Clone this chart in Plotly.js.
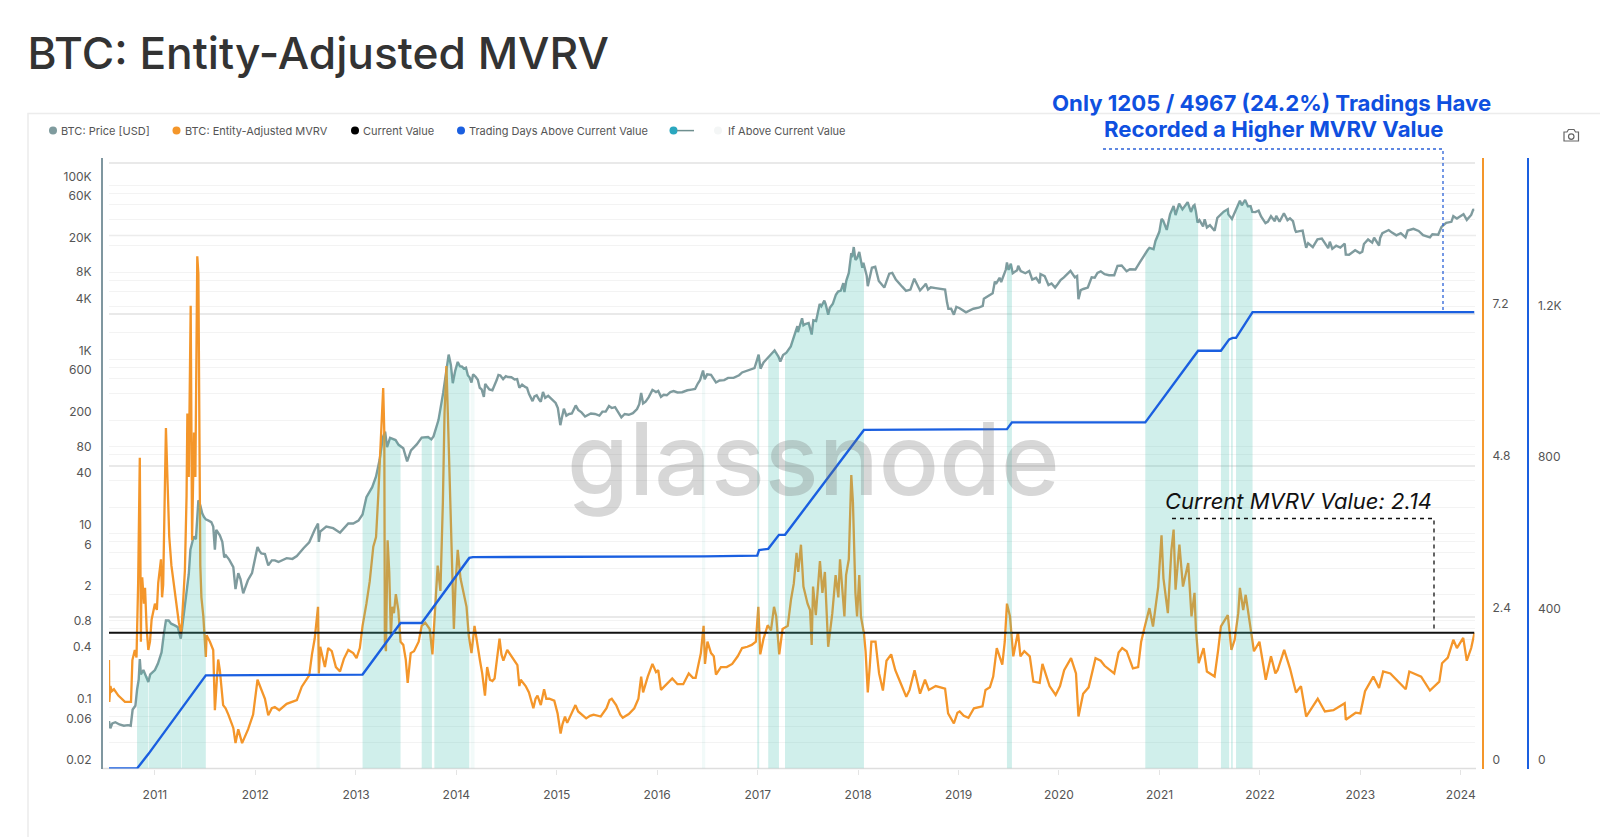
<!DOCTYPE html>
<html>
<head>
<meta charset="utf-8">
<script src="https://cdn.plot.ly/plotly-3.0.1.min.js"></script>
<style>html,body{margin:0;padding:0;background:#fff}#chart{width:1600px;height:837px}</style>
</head>
<body>
<div id="chart"></div>
<script>
const pricePoints = [
['10-07-18',.07],['10-07-23',.058],['10-07-30',.066],['10-08-10',.068],['10-08-25',.064],['10-09-10',.062],['10-09-25',.063],['10-10-05',.062],['10-10-12',.095],['10-10-22',.105],['10-10-28',.16],['10-11-03',.21],['10-11-07',.36],['10-11-11',.24],['10-11-20',.27],['10-11-30',.23],['10-12-08',.197],['10-12-15',.24],['10-12-25',.26],
['11-01-01',.27],['11-01-12',.32],['11-01-25',.43],['11-02-03',.72],['11-02-10',1.0],['11-02-20',1.0],['11-03-01',.92],['11-03-14',.88],['11-03-25',.84],['11-04-05',.62],['11-04-15',1.1],['11-04-28',2.7],['11-05-04',3.4],['11-05-10',6.5],['11-05-16',7.5],['11-05-22',9.2],['11-05-30',8.6],['11-06-08',24],['11-06-15',21],['11-06-22',17],['11-06-28',15.5],['11-07-05',14.5],['11-07-15',14],['11-07-25',13.5],['11-08-01',12],['11-08-07',6.5],['11-08-12',11],['11-08-25',9.5],['11-09-03',8],['11-09-10',5.3],['11-09-16',5.6],['11-09-28',5],['11-10-13',4.1],['11-10-21',2.3],['11-10-31',3.5],['11-11-08',3.0],['11-11-18',2.05],['11-12-05',2.9],['11-12-20',3.5],
['12-01-09',7],['12-01-16',6.3],['12-01-23',5.9],['12-02-05',5.8],['12-02-17',4.3],['12-03-01',4.9],['12-03-12',4.9],['12-03-25',4.7],['12-04-10',5],['12-04-24',5.2],['12-05-15',5.1],['12-05-31',5.5],['12-06-25',6.8],['12-07-15',7.9],['12-08-04',11],['12-08-16',13],['12-08-19',8],['12-08-24',10.5],['12-09-15',12],['12-10-10',11.5],['12-11-04',10.2],['12-12-04',13],['12-12-22',13],
['13-01-10',14],['13-01-25',16.5],['13-02-08',26],['13-03-01',34],['13-03-15',45],['13-03-28',70],['13-04-09',128],['13-04-17',147],['13-04-24',98],['13-05-05',125],['13-05-25',118],['13-06-05',104],['13-06-22',95],['13-07-06',67],['13-07-20',90],['13-08-10',105],['13-08-28',126],['13-09-20',128],['13-10-02',120],['13-10-10',130],['13-10-28',200],['13-11-14',410],['13-11-25',780],['13-12-04',1130],['13-12-12',860],['13-12-19',530],['13-12-28',740],
['14-01-06',930],['14-01-14',830],['14-01-22',820],['14-01-28',780],['14-02-05',800],['14-02-12',650],['14-02-18',620],['14-02-25',540],['14-03-03',670],['14-03-12',630],['14-03-20',580],['14-03-27',470],['14-04-03',450],['14-04-11',370],['14-04-16',520],['14-04-22',490],['14-05-01',450],['14-05-12',440],['14-05-22',510],['14-05-28',580],['14-06-03',660],['14-06-10',650],['14-06-20',590],['14-06-30',640],['14-07-08',625],['14-07-20',620],['14-08-01',585],['14-08-10',590],['14-08-18',470],['14-08-28',510],['14-09-08',480],['14-09-15',470],['14-09-22',400],['14-10-05',330],['14-10-12',375],['14-10-20',385],['14-10-30',340],['14-11-04',325],['14-11-12',420],['14-11-20',360],['14-12-01',380],['14-12-15',345],['14-12-28',315],
['15-01-05',275],['15-01-14',175],['15-01-20',215],['15-01-27',270],['15-02-05',225],['15-02-15',235],['15-02-25',238],['15-03-11',295],['15-03-20',262],['15-04-01',245],['15-04-14',220],['15-04-25',228],['15-05-05',238],['15-05-20',235],['15-06-05',225],['15-06-16',250],['15-06-28',250],['15-07-10',290],['15-07-20',275],['15-08-01',282],['15-08-18',235],['15-08-24',215],['15-09-05',235],['15-09-20',230],['15-10-05',240],['15-10-20',268],['15-10-28',305],['15-11-04',410],['15-11-11',310],['15-11-20',325],['15-12-01',365],['15-12-15',445],['15-12-28',420],
['16-01-05',432],['16-01-15',370],['16-01-25',390],['16-02-05',385],['16-02-18',420],['16-03-01',430],['16-03-15',415],['16-04-01',418],['16-04-20',440],['16-05-05',448],['16-05-18',455],['16-05-28',525],['16-06-05',575],['16-06-16',740],['16-06-22',590],['16-07-01',670],['16-07-15',660],['16-08-02',540],['16-08-15',570],['16-09-01',575],['16-09-15',610],['16-10-05',610],['16-10-25',655],['16-11-05',705],['16-11-20',735],['16-12-05',765],['16-12-20',790],['16-12-28',950],
['17-01-04',1130],['17-01-11',780],['17-01-22',920],['17-02-05',1025],['17-02-24',1180],['17-03-03',1260],['17-03-17',1070],['17-03-24',940],['17-04-03',1120],['17-04-15',1190],['17-05-01',1400],['17-05-10',1750],['17-05-25',2400],['17-05-27',2050],['17-06-11',2950],['17-06-16',2450],['17-06-25',2550],['17-07-05',2600],['17-07-16',1920],['17-07-22',2800],['17-08-01',2750],['17-08-14',4300],['17-08-20',4050],['17-08-31',4700],['17-09-05',4250],['17-09-14',3250],['17-09-20',3900],['17-10-01',4350],['17-10-12',5500],['17-10-20',5980],['17-10-30',6130],['17-11-08',7450],['17-11-12',5900],['17-11-19',8000],['17-11-28',9800],['17-12-07',16500],['17-12-10',14800],['17-12-16',19400],['17-12-22',13800],['17-12-28',14500],
['18-01-05',17000],['18-01-16',11200],['18-01-20',12800],['18-02-01',9100],['18-02-05',6900],['18-02-20',11200],['18-03-04',11500],['18-03-17',7900],['18-03-29',7100],['18-04-06',6650],['18-04-24',9600],['18-05-05',9800],['18-05-18',8200],['18-05-29',7400],['18-06-10',6800],['18-06-24',6100],['18-07-10',6300],['18-07-24',8400],['18-08-05',7000],['18-08-14',6150],['18-08-30',7000],['18-09-04',7350],['18-09-12',6300],['18-09-22',6700],['18-10-10',6550],['18-10-25',6400],['18-11-13',6300],['18-11-20',4500],['18-11-25',3800],['18-12-05',3800],['18-12-15',3250],['18-12-24',4000],
['19-01-05',3850],['19-01-28',3450],['19-02-10',3650],['19-02-24',3800],['19-03-15',3900],['19-03-30',4100],['19-04-03',4950],['19-04-20',5300],['19-05-05',5700],['19-05-13',7800],['19-05-17',7300],['19-05-30',8600],['19-06-05',7700],['19-06-22',10700],['19-06-26',12900],['19-07-02',10600],['19-07-10',12500],['19-07-17',9700],['19-08-02',10500],['19-08-06',11800],['19-08-15',10300],['19-09-01',9700],['19-09-15',10300],['19-09-26',8200],['19-10-10',8600],['19-10-23',7450],['19-10-26',9500],['19-11-10',9000],['19-11-24',7100],['19-12-05',7400],['19-12-18',6650],['19-12-28',7300],
['20-01-07',8100],['20-01-19',8700],['20-01-29',9400],['20-02-12',10350],['20-02-28',8700],['20-03-07',9000],['20-03-12',4900],['20-03-20',6200],['20-03-30',6400],['20-04-15',6650],['20-04-29',8700],['20-05-10',8600],['20-05-20',9800],['20-06-01',10200],['20-06-15',9450],['20-07-01',9200],['20-07-20',9200],['20-08-01',11800],['20-08-16',11900],['20-09-03',10250],['20-09-15',10800],['20-10-05',10700],['20-10-21',12900],['20-11-05',15600],['20-11-18',17800],['20-11-25',19000],['20-12-10',18300],['20-12-17',22800],['20-12-31',29000],
['21-01-08',40800],['21-01-14',39000],['21-01-27',30500],['21-02-08',46000],['21-02-21',57500],['21-02-28',45200],['21-03-13',61000],['21-03-25',52500],['21-04-13',63500],['21-04-25',49000],['21-05-03',57000],['21-05-08',58800],['21-05-13',49700],['21-05-19',37000],['21-05-26',39500],['21-06-08',33500],['21-06-14',40500],['21-06-22',32500],['21-07-03',34500],['21-07-20',29800],['21-07-30',42000],['21-08-14',47000],['21-08-22',49500],['21-09-06',52700],['21-09-08',46000],['21-09-21',40700],['21-10-05',51500],['21-10-15',61500],['21-10-20',65900],['21-10-27',58500],['21-11-08',67500],['21-11-18',57000],['21-11-28',57200],['21-12-04',49200],['21-12-15',48800],['21-12-27',50700],
['22-01-05',43500],['22-01-21',36500],['22-01-30',38000],['22-02-10',43800],['22-02-24',38300],['22-03-01',44400],['22-03-13',37800],['22-03-29',47400],['22-04-11',39500],['22-04-20',41500],['22-05-01',38500],['22-05-09',30300],['22-05-12',29000],['22-05-25',29500],['22-06-05',29900],['22-06-13',22500],['22-06-18',19000],['22-06-25',21500],['22-07-12',19300],['22-07-29',23800],['22-08-14',24300],['22-08-25',21500],['22-09-06',18800],['22-09-12',22300],['22-09-21',18500],['22-10-05',20100],['22-10-20',19100],['22-11-05',21200],['22-11-09',15900],['22-11-21',15800],['22-12-13',17800],['22-12-30',16550],
['23-01-08',17100],['23-01-14',21000],['23-01-29',23700],['23-02-13',21800],['23-02-20',24800],['23-03-10',20200],['23-03-14',24700],['23-03-22',28000],['23-04-10',29700],['23-04-14',30400],['23-04-26',28400],['23-05-12',26400],['23-05-28',28000],['23-06-14',25100],['23-06-22',30000],['23-07-13',31400],['23-08-01',29700],['23-08-17',26600],['23-09-11',25100],['23-09-20',27200],['23-10-11',26800],['23-10-23',33000],['23-11-09',36700],['23-11-28',37800],['23-12-05',43900],['23-12-18',41300],
['24-01-01',44200],['24-01-11',46300],['24-01-23',39800],['24-02-01',43000],['24-02-08',45300],['24-02-15',51800],['24-02-20',52000]];

const mvrvPoints = [
['10-07-18',1.71],['10-07-19',1.05],['10-07-23',1.3],['10-07-28',1.22],['10-08-05',1.25],['10-08-21',1.15],['10-09-14',1.05],['10-10-06',1.05],['10-10-11',1.71],['10-10-20',1.87],['10-10-26',1.75],['10-11-01',2.93],['10-11-07',4.9],['10-11-11',2.0],['10-11-13',3.0],['10-11-16',3.0],['10-11-22',2.6],['10-11-26',2.85],['10-12-02',2.2],['10-12-08',1.87],['10-12-14',2.0],['10-12-20',2.35],
['11-01-01',2.6],['11-01-08',2.5],['11-01-13',2.93],['11-01-23',3.3],['11-01-27',2.7],['11-01-31',2.9],['11-02-04',3.9],['11-02-10',5.37],['11-02-16',4.5],['11-02-22',3.66],['11-03-02',3.2],['11-03-08',3.0],['11-03-14',2.83],['11-03-24',2.5],['11-03-29',2.3],['11-04-07',2.13],['11-04-20',3.13],['11-04-26',4.3],['11-04-29',5.6],['11-05-04',4.6],['11-05-08',6.1],['11-05-11',7.3],['11-05-16',3.6],['11-05-23',5.3],['11-05-28',4.6],['11-06-04',8.08],['11-06-08',7.8],['11-06-10',6.6],['11-06-15',3.2],['11-06-19',2.7],['11-06-26',2.4],['11-07-05',1.76],['11-07-08',2.1],['11-07-20',2.0],['11-08-01',1.87],['11-08-07',.92],['11-08-19',1.72],['11-08-25',1.55],['11-09-06',1.0],['11-09-15',.95],['11-09-25',.85],['11-10-13',.64],['11-10-21',.4],['11-10-31',.62],['11-11-14',.4],['11-12-06',.62],['11-12-24',.85],
['12-01-09',1.4],['12-01-23',1.25],['12-02-05',1.1],['12-02-17',.84],['12-03-01',.95],['12-03-12',.97],['12-03-28',.92],['12-04-24',1.02],['12-05-31',1.08],['12-06-18',1.29],['12-07-15',1.47],['12-07-25',1.8],['12-08-04',2.05],['12-08-16',2.55],['12-08-19',1.5],['12-08-24',1.92],['12-09-10',1.6],['12-09-22',1.9],['12-10-05',1.85],['12-10-20',1.6],['12-11-04',1.53],['12-11-18',1.73],['12-12-04',1.87],['12-12-22',1.82],
['13-01-03',1.74],['13-01-15',1.9],['13-01-25',2.25],['13-02-08',2.6],['13-02-20',2.95],['13-03-05',3.5],['13-03-15',3.65],['13-03-23',4.3],['13-03-29',4.8],['13-04-04',5.3],['13-04-10',6.0],['13-04-14',5.3],['13-04-16',2.0],['13-04-20',1.85],['13-04-26',3.6],['13-05-02',3.1],['13-05-08',2.1],['13-05-13',2.55],['13-05-19',2.45],['13-05-26',2.75],['13-06-04',2.5],['13-06-12',2.0],['13-06-22',1.95],['13-07-01',1.72],['13-07-08',1.35],['13-07-19',1.82],['13-07-31',1.85],['13-08-17',2.0],['13-08-28',2.25],['13-09-10',2.3],['13-09-26',2.2],['13-10-06',1.8],['13-10-14',2.4],['13-10-25',3.2],['13-11-04',2.8],['13-11-13',4.2],['13-11-19',5.6],['13-11-26',6.35],['13-12-01',5.6],['13-12-06',4.8],['13-12-11',3.8],['13-12-17',3.2],['13-12-23',2.2],['13-12-29',2.9],
['14-01-06',3.45],['14-01-16',3.0],['14-01-28',2.75],['14-02-07',2.55],['14-02-15',2.1],['14-02-25',1.82],['14-03-08',2.25],['14-03-16',2.0],['14-03-28',1.7],['14-04-05',1.5],['14-04-15',1.15],['14-04-23',1.6],['14-05-03',1.4],['14-05-12',1.38],['14-05-20',1.42],['14-05-28',1.7],['14-06-07',2.05],['14-06-14',1.8],['14-06-21',1.7],['14-07-05',1.87],['14-07-23',1.75],['14-08-11',1.63],['14-08-18',1.3],['14-08-23',1.4],['14-09-10',1.3],['14-09-22',1.2],['14-10-08',.95],['14-10-16',1.1],['14-10-23',1.15],['14-11-04',1.0],['14-11-16',1.25],['14-11-24',1.1],['14-12-05',1.1],['14-12-23',1.07],
['15-01-04',.87],['15-01-15',.55],['15-01-22',.7],['15-01-31',.82],['15-02-08',.72],['15-02-22',.85],['15-03-10',1.0],['15-03-20',.9],['15-04-01',.85],['15-04-18',.79],['15-05-02',.83],['15-05-15',.85],['15-06-10',.82],['15-07-01',.95],['15-07-12',1.08],['15-07-20',1.1],['15-08-05',1.0],['15-08-20',.85],['15-08-29',.8],['15-09-20',.86],['15-10-10',.95],['15-10-25',1.1],['15-11-04',1.45],['15-11-11',1.2],['15-11-28',1.45],['15-12-15',1.65],['15-12-28',1.52],
['16-01-05',1.55],['16-01-15',1.24],['16-02-05',1.33],['16-02-25',1.42],['16-03-15',1.33],['16-04-05',1.33],['16-04-25',1.5],['16-05-10',1.43],['16-05-20',1.43],['16-05-30',1.65],['16-06-08',1.82],['16-06-18',2.25],['16-06-23',1.65],['16-07-02',2.0],['16-07-15',1.82],['16-07-25',1.77],['16-08-02',1.48],['16-08-20',1.6],['16-09-10',1.6],['16-09-30',1.65],['16-10-20',1.77],['16-11-05',1.9],['16-11-24',1.92],['16-12-10',1.95],['16-12-25',2.0],
['17-01-03',2.55],['17-01-10',1.8],['17-01-22',2.05],['17-02-06',2.26],['17-02-18',2.18],['17-03-01',2.55],['17-03-09',2.4],['17-03-20',1.8],['17-04-01',2.2],['17-04-20',2.25],['17-05-02',2.67],['17-05-12',2.92],['17-05-22',3.4],['17-05-28',3.1],['17-06-07',3.53],['17-06-16',2.87],['17-07-01',2.6],['17-07-10',2.5],['17-07-16',1.95],['17-07-21',2.87],['17-07-31',2.42],['17-08-15',3.27],['17-08-24',2.77],['17-09-02',3.1],['17-09-07',2.6],['17-09-14',1.92],['17-09-29',2.45],['17-10-11',3.05],['17-10-21',2.7],['17-10-27',3.3],['17-11-12',2.4],['17-11-18',3.05],['17-11-28',3.3],['17-12-07',4.63],['17-12-13',4.2],['17-12-17',3.55],['17-12-22',2.77],['17-12-28',2.4],
['18-01-05',3.05],['18-01-11',2.4],['18-01-22',2.13],['18-01-28',1.85],['18-02-05',1.2],['18-02-12',1.6],['18-02-18',2.0],['18-03-05',2.0],['18-03-18',1.5],['18-04-01',1.23],['18-04-14',1.7],['18-05-01',1.8],['18-05-16',1.55],['18-06-05',1.34],['18-06-25',1.13],['18-07-07',1.24],['18-07-25',1.55],['18-08-14',1.18],['18-09-01',1.4],['18-09-15',1.24],['18-10-10',1.3],['18-11-13',1.26],['18-11-24',.87],['18-12-15',.71],['18-12-28',.88],
['19-01-05',.9],['19-01-20',.83],['19-02-06',.8],['19-02-26',.95],['19-03-29',.98],['19-04-09',1.24],['19-04-25',1.28],['19-05-07',1.45],['19-05-20',1.9],['19-06-09',1.64],['19-06-18',2.0],['19-06-26',2.6],['19-07-07',2.4],['19-07-19',1.77],['19-08-05',2.15],['19-08-14',1.77],['19-08-28',1.85],['19-09-17',1.77],['19-09-30',1.37],['19-10-23',1.35],['19-11-02',1.65],['19-11-28',1.3],['19-12-20',1.16],
['20-01-05',1.3],['20-01-20',1.55],['20-02-14',1.74],['20-03-03',1.5],['20-03-12',.82],['20-03-29',1.18],['20-04-18',1.28],['20-05-13',1.74],['20-06-01',1.7],['20-06-15',1.62],['20-07-01',1.57],['20-07-20',1.5],['20-08-05',1.83],['20-08-18',1.9],['20-09-03',1.85],['20-09-26',1.58],['20-10-15',1.6],['20-10-26',2.0],['20-11-06',2.2],['20-11-25',2.53],['20-12-08',2.24],['20-12-27',2.87],
['21-01-08',3.68],['21-01-15',3.0],['21-01-31',2.45],['21-02-13',3.45],['21-02-21',3.77],['21-02-28',2.82],['21-03-14',3.53],['21-03-27',2.87],['21-04-15',3.24],['21-04-27',2.4],['21-05-08',2.77],['21-05-13',2.2],['21-05-23',1.66],['21-06-10',1.9],['21-06-22',1.53],['21-07-20',1.45],['21-08-02',1.87],['21-08-12',2.24],['21-09-06',2.42],['21-09-19',1.87],['21-10-01',2.03],['21-10-14',2.45],['21-10-20',2.85],['21-11-01',2.5],['21-11-10',2.74],['21-11-26',2.3],['21-12-10',1.85],['21-12-30',2.0],
['22-01-22',1.4],['22-02-10',1.77],['22-02-26',1.5],['22-03-06',1.55],['22-03-30',1.87],['22-04-20',1.58],['22-05-12',1.2],['22-05-30',1.3],['22-06-18',.82],['22-07-12',.98],['22-07-30',1.1],['22-08-25',.9],['22-09-25',.92],['22-11-05',1.03],['22-11-09',.77],['22-12-15',.88],
['23-01-01',.87],['23-01-18',1.22],['23-02-17',1.45],['23-03-10',1.27],['23-03-25',1.53],['23-04-20',1.5],['23-06-15',1.25],['23-06-28',1.53],['23-08-10',1.45],['23-09-11',1.23],['23-10-15',1.37],['23-10-25',1.66],['23-11-15',1.75],['23-12-05',2.03],['23-12-18',1.9],
['24-01-10',2.06],['24-01-23',1.7],['24-02-08',1.9],['24-02-20',2.14]];

const daysDates = ['2010-07-18','2010-10-28','2010-12-08','2011-07-05','2013-01-25','2013-06-12','2013-08-28','2014-02-17','2014-03-02','2016-06-17','2016-06-19','2016-12-30','2017-01-06','2017-02-08','2017-03-19','2017-04-10','2018-01-22','2019-06-26','2019-07-14','2020-11-10','2021-05-21','2021-08-12','2021-09-11','2021-09-24','2021-10-06','2021-12-05','2024-02-20'];
const daysValues = [0,0,38,246,248,384,384,556,558,558,560,562,577,580,617,617,894,896,914,914,1103,1103,1133,1137,1137,1205,1205];

const aboveStart = ['2010-10-28','2010-12-09','2011-04-08','2013-01-25','2013-08-28','2013-10-13','2016-12-30','2017-02-08','2017-04-10','2019-06-26','2020-11-10','2021-08-12','2021-09-18','2021-10-06'];
const aboveEnd = ['2010-12-07','2011-04-06','2011-07-05','2013-06-12','2013-10-04','2014-02-17','2017-01-06','2017-03-19','2018-01-22','2019-07-14','2021-05-21','2021-09-11','2021-09-24','2021-12-05'];
const faintStart = ['2012-08-10','2014-02-22','2016-06-12'];
const faintEnd = ['2012-08-22','2014-03-08','2016-06-24'];

const currentDates = ['2010-07-18','2024-02-20'];
const currentValues = [2.14,2.14];

const priceTickVals = [1e5,8e4,6e4,4e4,2e4,1e4,8e3,6e3,4e3,2e3,1e3,800,600,400,200,100,80,60,40,20,10,8,6,4,2,1,.8,.6,.4,.2,.1,.08,.06,.04,.02];
const priceTickText = ['100K','','60K','','20K','','8K','','4K','','1K','','600','','200','','80','','40','','10','','6','','2','','0.8','','0.4','','0.1','','0.06','','0.02'];
const mvrvTicks = [0,2.4,4.8,7.2];
const daysTicks = [0,400,800,1200,1600];
const daysTickText = ['0','400','800','1.2K',''];

const priceDates = pricePoints.map(p=>'20'+p[0]), priceValues = pricePoints.map(p=>p[1]);
const mvrvDates = mvrvPoints.map(p=>'20'+p[0]), mvrvValues = mvrvPoints.map(p=>p[1]);

const W = 1600, H = 837;
const PX = x => x / W, PY = y => 1 - y / H;
const FONT = 'Inter, "Noto Sans", sans-serif';
const C = {price:'#7f9b9e', mvrv:'#f4962a', days:'#1a5fe0', black:'#111'};

function priceAt(d){
  let best = priceValues[0];
  for(let i=0;i<priceDates.length;i++){ if(priceDates[i]<=d) best=priceValues[i]; else break; }
  return best;
}
function shadeTrace(starts, ends, color, name){
  const X=[], Y=[];
  starts.forEach((s,k)=>{
    const e=ends[k];
    X.push(s); Y.push(priceAt(s));
    priceDates.forEach((d,i)=>{ if(d>s && d<e){ X.push(d); Y.push(priceValues[i]); } });
    X.push(e, e, s, null); Y.push(priceAt(e), 0.02, 0.02, null);
  });
  return {x:X,y:Y,yaxis:'y3',mode:'none',name,fill:'toself',fillcolor:color,showlegend:false,hoverinfo:'skip'};
}

const traces = [
 {x:priceDates,y:priceValues,yaxis:'y',mode:'lines',name:'BTC: Price [USD]',line:{color:C.price,width:2.4},showlegend:false},
 {x:mvrvDates,y:mvrvValues,yaxis:'y2',mode:'lines',name:'BTC: Entity-Adjusted MVRV',line:{color:C.mvrv,width:2.3},showlegend:false},
 {x:currentDates,y:currentValues,yaxis:'y2',mode:'lines',name:'Current Value',line:{color:C.black,width:2},showlegend:false},
 shadeTrace(aboveStart,aboveEnd,'rgba(67,191,175,0.25)','If Above Current Value'),
 shadeTrace(faintStart,faintEnd,'rgba(67,191,175,0.07)','If Above Current Value (brief)'),
 {x:daysDates,y:daysValues,yaxis:'y4',mode:'lines',name:'Trading Days Above Current Value',line:{color:C.days,width:2.4},showlegend:false}
];

const tickFont = {family:FONT,size:12,color:'#555'};
const logRange = [Math.log10(0.02),5.31];
const yDomain = [PY(768.5),PY(158)];

const legendDots = [[53,C.price],[176.5,C.mvrv],[355,'#000'],[461,C.days],[673.5,'#2aa7bf'],[718,'#f4f6f6']];
const legendTexts = [[61,'BTC: Price [USD]'],[184.7,'BTC: Entity-Adjusted MVRV'],[363,'Current Value'],[469,'Trading Days Above Current Value'],[727.5,'If Above Current Value']];
const LY = 130.6;

const pathOf = pts => pts.map((p,i)=>(i?'L':'M')+PX(p[0])+' '+PY(p[1])).join(' ');
const shapes = [
 {type:'rect',xref:'paper',yref:'paper',x0:PX(28),x1:PX(1640),y0:PY(113.5),y1:PY(900),line:{color:'#ececec',width:1.5},fillcolor:'rgba(0,0,0,0)',layer:'below'},
 {type:'line',xref:'paper',yref:'paper',x0:PX(102),x1:PX(1476),y0:PY(768.5),y1:PY(768.5),line:{color:'#dedede',width:1.5},layer:'below'},
 {type:'line',xref:'paper',yref:'paper',x0:PX(109),x1:PX(1476),y0:PY(235.5),y1:PY(235.5),line:{color:'#ececec',width:1.5},layer:'below'},
 {type:'path',xref:'paper',yref:'paper',path:pathOf([[1103,149],[1443,149],[1443,312]]),line:{color:'#2c62d8',width:1.3,dash:'3px,3px'}},
 {type:'path',xref:'paper',yref:'paper',path:pathOf([[1172,518.5],[1434,518.5],[1434,633]]),line:{color:'#111',width:1.3,dash:'4px,4px'}}
];
legendDots.forEach(d=>shapes.push({type:'circle',xref:'paper',yref:'paper',x0:PX(d[0]-4),x1:PX(d[0]+4),y0:PY(LY+4),y1:PY(LY-4),fillcolor:d[1],line:{width:0}}));
shapes.push({type:'line',xref:'paper',yref:'paper',x0:PX(677),x1:PX(694),y0:PY(LY),y1:PY(LY),line:{color:'#6f8f8f',width:1.5}});
shapes.push({type:'path',xref:'paper',yref:'paper',path:pathOf([[1564,132],[1567,132],[1568.5,129.5],[1574,129.5],[1575.5,132],[1578.5,132],[1578.5,141],[1564,141]])+' Z',line:{color:'#666',width:1.2},fillcolor:'rgba(0,0,0,0)'});
shapes.push({type:'circle',xref:'paper',yref:'paper',x0:PX(1568.5),x1:PX(1574),y0:PY(139.3),y1:PY(133.8),line:{color:'#666',width:1.2},fillcolor:'rgba(0,0,0,0)'});

const annotations = [
 {xref:'paper',yref:'paper',x:PX(813),y:PY(458),text:'glassnode',showarrow:false,xanchor:'center',yanchor:'middle',font:{family:FONT,size:100,color:'rgba(110,110,110,0.28)',weight:500}},
 {xref:'paper',yref:'paper',x:PX(1271.4),y:PY(102.5),text:'<b>Only 1205 / 4967 (24.2%) Tradings Have</b>',showarrow:false,xanchor:'center',yanchor:'middle',font:{family:FONT,size:22.2,color:'#0f50e0'}},
 {xref:'paper',yref:'paper',x:PX(1274.4),y:PY(128.5),text:'<b>Recorded a Higher MVRV Value</b>',showarrow:false,xanchor:'center',yanchor:'middle',font:{family:FONT,size:22.2,color:'#0f50e0'}},
 {xref:'paper',yref:'paper',x:PX(1163),y:PY(501),text:'<i>Current MVRV Value: 2.14</i>',showarrow:false,xanchor:'left',yanchor:'middle',font:{family:FONT,size:22,color:'#111'}}
];
legendTexts.forEach(t=>annotations.push({xref:'paper',yref:'paper',x:PX(t[0]),y:PY(LY),text:t[1],showarrow:false,xanchor:'left',yanchor:'middle',xshift:-2,font:{family:FONT,size:11,color:'#555'}}));

const layout = {
 width:W,height:H,margin:{l:0,r:0,t:0,b:0},paper_bgcolor:'#fff',plot_bgcolor:'rgba(0,0,0,0)',showlegend:false,
 title:{text:'BTC: Entity-Adjusted MVRV',x:PX(27.5),xanchor:'left',xref:'paper',y:PY(53),yanchor:'middle',yref:'paper',font:{family:FONT,size:44.3,color:'#333',weight:500}},
 xaxis:{domain:[PX(109),PX(1474.5)],type:'date',range:['2010-07-18','2024-02-20'],dtick:'M12',tick0:'2011-01-01',tickformat:'%Y',showgrid:false,zeroline:false,showline:false,ticks:'outside',ticklen:5,tickcolor:'#e4e4e4',tickfont:tickFont,ticklabelstandoff:10},
 yaxis:{domain:yDomain,type:'log',range:logRange,anchor:'free',position:PX(102),tickmode:'array',tickvals:priceTickVals,ticktext:priceTickText,ticklabelposition:'outside top',ticklabelshift:-2.5,showgrid:true,gridcolor:'#f3f3f3',gridwidth:1,zeroline:false,showline:true,linecolor:'#7f97a0',linewidth:2,tickfont:tickFont,ticks:'',ticklabelstandoff:7},
 yaxis2:{domain:yDomain,overlaying:'y',side:'right',anchor:'free',position:PX(1483),range:[0,9.63],tickmode:'array',tickvals:mvrvTicks,ticktext:mvrvTicks.map(String),ticklabelposition:'outside top',ticklabelshift:-2.5,showgrid:false,zeroline:false,showline:true,linecolor:C.mvrv,linewidth:2,tickfont:tickFont,ticks:'',ticklabelstandoff:6},
 yaxis3:{domain:yDomain,overlaying:'y',type:'log',range:logRange,visible:false,anchor:'x'},
 yaxis4:{domain:yDomain,overlaying:'y',side:'right',anchor:'free',position:PX(1527.5),range:[0,1612],tickmode:'array',tickvals:daysTicks,ticktext:daysTickText,ticklabelposition:'outside top',ticklabelshift:-2.5,showgrid:true,gridcolor:'#e9e9e9',gridwidth:1.5,zeroline:false,showline:true,linecolor:C.days,linewidth:2,tickfont:tickFont,ticks:'',ticklabelstandoff:7},
 shapes,annotations
};
Plotly.newPlot('chart',traces,layout,{displayModeBar:false,responsive:false});
</script>
</body>
</html>
